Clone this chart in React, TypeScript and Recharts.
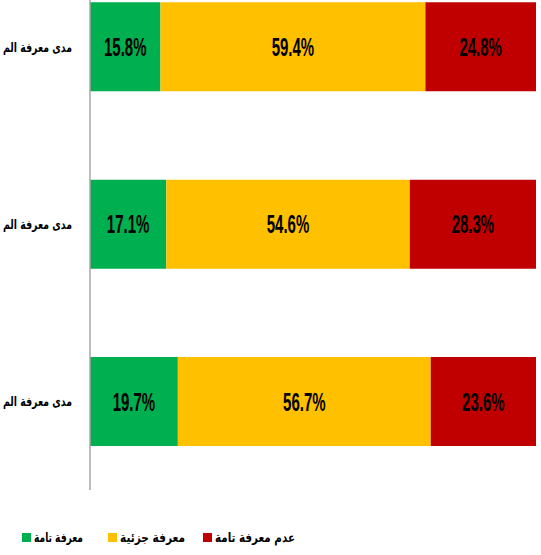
import React from 'react';
import { BarChart, Bar, XAxis, YAxis, Legend, LabelList } from 'recharts';

const categories = ['مدى معرفة الم', 'مدى معرفة الم ', 'مدى معرفة الم  '];
const fullKnowledge = [15.8, 17.1, 19.7];
const partialKnowledge = [59.4, 54.6, 56.7];
const noKnowledge = [24.8, 28.3, 23.6];

const seriesNames = ['معرفة تامة', 'معرفة جزئية', 'عدم معرفة تامة'];
const seriesColors = ['#00B050', '#FFC000', '#C00000'];

const chartData = categories.map((name, i) => ({
  name,
  full: fullKnowledge[i],
  partial: partialKnowledge[i],
  none: noKnowledge[i],
}));

const arabicFont = '"DejaVu Sans Condensed", "DejaVu Sans", sans-serif';
const numFont = '"Liberation Sans", Arial, sans-serif';

const CategoryTick = (props: any) => {
  const { x, y, payload } = props;
  return (
    <text transform={`translate(${x + 2},${y + 5}) scale(0.8,1)`} textAnchor="end"
      fontFamily={arabicFont} fontWeight="bold" fontSize={13} fill="#000">
      {payload.value.trim()}
    </text>
  );
};

const legendWidths = [49, 65, 80];

const renderLegend = () => (
  <svg width={330} height={18}>
    {seriesNames.map((n, i) => {
      const x0 = [22, 108, 203][i];
      return (
        <g key={n}>
          <rect x={x0} y={4} width={9} height={9} fill={seriesColors[i]} />
          <text x={x0 + 12} y={13} fontFamily={arabicFont} fontWeight="bold" fontSize={13} fill="#000"
            textLength={legendWidths[i]} lengthAdjust="spacingAndGlyphs">
            {n}
          </text>
        </g>
      );
    })}
  </svg>
);

const BarLabel = (props: any) => {
  const { x, y, width, height, value } = props;
  const cx = x + width / 2;
  const cy = y + height / 2;
  return (
    <text transform={`translate(${cx},${cy + 9}) scale(0.6,1)`} textAnchor="middle"
      fontFamily={numFont} fontWeight="bold" fontSize={25} fill="#000">
      {`${Number(value).toFixed(1)}%`}
    </text>
  );
};

const App: React.FC = () => {
  const keys = ['full', 'partial', 'none'];
  return (
    <div style={{ width: 541, height: 555, overflow: 'hidden', position: 'relative', background: '#fff' }}>
      <style>{'body{margin:0}'}</style>
      <div style={{ position: 'absolute', left: 0, top: -42 }}>
        <BarChart
          width={541}
          height={597}
          data={chartData}
          layout="vertical"
          margin={{ top: 0, right: 5, bottom: 47, left: 0 }}
          barCategoryGap="25%"
        >
          <XAxis type="number" domain={[0, 100]} hide />
          <YAxis
            type="category"
            dataKey="name"
            width={90}
            tickLine={false}
            axisLine={{ stroke: '#a6a6a6', strokeWidth: 1.5 }}
            tick={<CategoryTick />}
            tickMargin={14}
          />
          <Legend
            verticalAlign="bottom"
            content={renderLegend}
            wrapperStyle={{ position: 'absolute', left: 0, top: 571, width: 330, height: 18 }}
          />
          {keys.map((k, i) => (
            <Bar key={k} dataKey={k} name={seriesNames[i]} stackId="a" fill={seriesColors[i]} isAnimationActive={false}>
              <LabelList dataKey={k} content={<BarLabel />} />
            </Bar>
          ))}
        </BarChart>
      </div>
    </div>
  );
};

export default App;
